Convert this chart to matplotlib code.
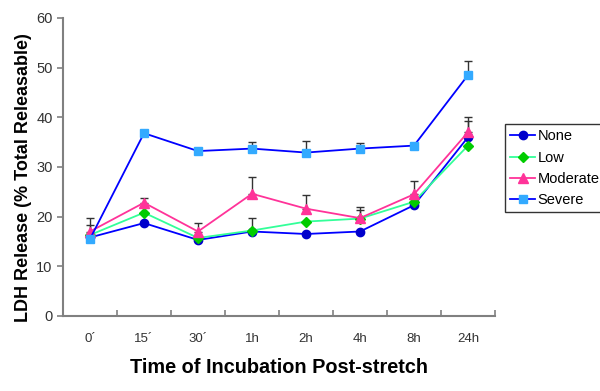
import matplotlib.pyplot as plt
import numpy as np

plt.rcParams['font.family'] = ['Liberation Sans', 'DejaVu Sans']

# Time points and LDH release (% total releasable) per stretch level
times = ["0\u00b4", "15\u00b4", "30\u00b4", "1h", "2h", "4h", "8h", "24h"]

none_vals = [15.8, 18.7, 15.3, 17.0, 16.5, 17.0, 22.3, 36.0]
low_vals = [16.3, 20.8, 15.7, 17.2, 19.0, 19.6, 23.0, 34.3]
moderate_vals = [17.0, 22.8, 17.0, 24.6, 21.6, 19.7, 24.5, 37.0]
severe_vals = [15.5, 36.8, 33.2, 33.7, 32.9, 33.7, 34.3, 48.5]

# upper error bars only
none_err = [2.6, 0, 0, 0, 0, 0, 0, 3.3]
low_err = [0, 0, 0, 2.6, 0, 1.7, 0, 0]
moderate_err = [2.8, 1.0, 1.8, 3.4, 2.8, 2.3, 2.7, 3.0]
severe_err = [0, 0.5, 0.6, 1.4, 2.3, 1.2, 0.3, 2.8]

fig = plt.figure(figsize=(6, 3.91), dpi=100)
ax = fig.add_axes([0.105, 0.192, 0.72, 0.762])

x = np.arange(len(times))

series = [
    ("None", none_vals, none_err, "#0000ff", "#0000cc", "o", 6),
    ("Low", low_vals, low_err, "#33ff99", "#00cc00", "D", 5),
    ("Moderate", moderate_vals, moderate_err, "#ff3399", "#ff3399", "^", 7),
    ("Severe", severe_vals, severe_err, "#0000ff", "#33aaff", "s", 6),
]

for name, vals, err, lc, mc, mk, ms in series:
    e = np.array(err)
    ax.errorbar(x, vals, yerr=[np.zeros_like(e), e], fmt="none",
                ecolor="#333333", elinewidth=1, capsize=3, capthick=1, zorder=2)
    ax.plot(x, vals, color=lc, linewidth=1.3, marker=mk, markersize=ms,
            markerfacecolor=mc, markeredgecolor=mc, label=name, zorder=3)

ax.set_xlim(-0.5, 7.5)
ax.set_ylim(0, 60)
ax.set_yticks(range(0, 61, 10))
ax.set_xticks(x)
ax.set_xticklabels(times)
ax.set_xticks(np.arange(-0.5, 8, 1), minor=True)
ax.tick_params(axis="x", which="major", length=0, pad=12, labelsize=9.5, colors="#333333")
ax.tick_params(axis="x", which="minor", length=4, width=1.2, color="#808080", direction="in")
ax.tick_params(axis="y", length=4, width=1.2, color="#808080", labelsize=10.5, labelcolor="#333333")

for side in ["top", "right"]:
    ax.spines[side].set_visible(False)
for side in ["left", "bottom"]:
    ax.spines[side].set_color("#808080")
    ax.spines[side].set_linewidth(1.5)

ax.set_xlabel("Time of Incubation Post-stretch", fontsize=14.3, fontweight="bold", labelpad=10)
ax.set_ylabel("LDH Release (% Total Releasable)", fontsize=13, fontweight="bold")
ax.yaxis.set_label_coords(-0.072, 0.463)

leg = fig.legend(loc="upper left", bbox_to_anchor=(0.842, 0.682), fontsize=10.5,
                 frameon=True, fancybox=False, edgecolor="#000000",
                 handlelength=1.7, handletextpad=0.15, borderpad=0.35,
                 borderaxespad=0, labelspacing=0.5)
leg.get_frame().set_linewidth(1)

fig.savefig("out.png", dpi=100)
